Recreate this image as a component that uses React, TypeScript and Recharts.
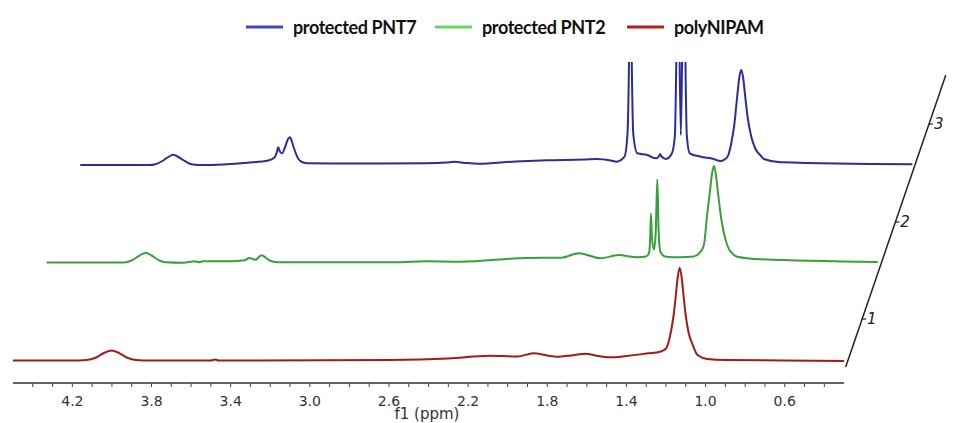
import React from 'react';
import { LineChart, Line, XAxis, YAxis, Legend, ReferenceLine, ReferenceDot } from 'recharts';

// [chemical shift (ppm), intensity]
const polyNipam: [number, number][] = [
  [4.5, 0], [4.2, 0], [4.13, 0.5], [4.08, 3], [4.04, 7.5], [4.003, 10], [3.965, 7.5], [3.925, 3],
  [3.88, 0.5], [3.8, 0], [3.5, 0], [3.48, 1], [3.46, 0], [2.6, 0.5], [2.3, 2], [2.09, 4.8], [1.95, 4],
  [1.87, 7.2], [1.8, 5], [1.75, 3.8], [1.68, 5], [1.61, 6.8], [1.54, 4.5], [1.48, 3.2], [1.4, 4.5],
  [1.29, 7.2], [1.23, 8.8], [1.2, 12], [1.176, 28], [1.161, 46], [1.151, 64], [1.141, 83], [1.131, 92.8],
  [1.121, 83], [1.111, 64], [1.101, 46], [1.086, 28], [1.066, 16], [1.041, 5.5], [0.99, 1.5], [0.9, 0.5],
  [0.6, 0], [0.3, -0.5],
];

const protectedPnt2: [number, number][] = [
  [4.5, 0], [4.11, 0], [4.07, 2], [4.03, 7], [4.0, 9.8], [3.97, 7], [3.93, 2], [3.9, 0.2], [3.81, -0.3],
  [3.75, 1.2], [3.73, 0.2], [3.71, 1.2], [3.57, 1.2], [3.5, 2.2], [3.475, 4.5], [3.445, 2.8], [3.415, 7.2],
  [3.37, 1.8], [3.33, 0.2], [2.73, 0.2], [2.59, 1.2], [2.41, 0.8], [2.07, 4.5], [1.9, 4.8], [1.81, 9.2],
  [1.7, 4.2], [1.61, 7.5], [1.515, 5.2], [1.47, 6], [1.455, 10], [1.45, 25], [1.446, 49], [1.441, 25],
  [1.431, 13], [1.422, 30], [1.414, 83], [1.407, 30], [1.4, 12], [1.39, 8], [1.37, 5.8], [1.3, 5.2],
  [1.23, 6], [1.195, 10.8], [1.178, 18], [1.162, 48], [1.148, 71], [1.138, 88], [1.128, 96.5],
  [1.118, 88], [1.108, 71], [1.094, 48], [1.078, 30], [1.058, 16], [1.03, 8], [1.01, 5.8], [0.89, 3.2],
  [0.3, 0.5],
];

const protectedPnt7: [number, number][] = [
  [4.5, 0], [4.15, 0], [4.12, 0.8], [4.085, 4], [4.055, 8], [4.03, 10.3], [4.005, 8], [3.98, 5],
  [3.95, 1.5], [3.92, 0.3], [3.89, 0], [3.655, 2.3], [3.55, 4.5], [3.52, 7.3], [3.505, 14], [3.5, 17.7],
  [3.49, 13], [3.48, 11.7], [3.465, 18], [3.45, 26], [3.44, 27.7], [3.43, 23], [3.42, 16.7], [3.4, 6.7],
  [3.38, 3], [3.35, 1.7], [3.0, 1.5], [2.75, 1.7], [2.65, 2.5], [2.61, 3.3], [2.55, 2], [2.49, 1.3],
  [2.3, 3.5], [2.14, 4.7], [1.95, 5.5], [1.89, 6], [1.82, 4.5], [1.79, 3.3], [1.75, 8.3], [1.735, 30],
  [1.726, 120], [1.72, 250], [1.714, 120], [1.705, 30], [1.685, 11.7], [1.635, 10], [1.59, 6.7],
  [1.575, 9], [1.57, 11], [1.565, 9], [1.54, 6], [1.51, 11.7], [1.495, 30], [1.485, 150], [1.478, 250],
  [1.472, 120], [1.465, 30], [1.458, 120], [1.452, 250], [1.445, 150], [1.435, 30], [1.42, 11.7],
  [1.365, 8.3], [1.3, 6], [1.265, 4], [1.24, 6], [1.225, 10], [1.21, 22], [1.195, 40], [1.18, 69],
  [1.17, 87], [1.16, 95], [1.15, 87], [1.14, 69], [1.127, 47], [1.11, 29], [1.09, 17], [1.06, 9],
  [1.045, 6], [0.96, 2.7], [0.295, 0.7],
];

const seriesNames = ['protected PNT7', 'protected PNT2', 'polyNIPAM'];
const traces = [protectedPnt7, protectedPnt2, polyNipam];
const traceColors = ['#2a2d9a', '#3a9f3a', '#a11b1b'];
const legendColors = ['#3f48cc', '#6ad46a', '#b81c1c'];

// stacked-plot offsets: horizontal shift (ppm) and vertical offset per trace
const xShifts = [0.34, 0.17, 0];
const yOffsets = [218, 120.5, 22.5];

const axisTicks = [4.4, 4.3, 4.2, 4.1, 4.0, 3.9, 3.8, 3.7, 3.6, 3.5, 3.4, 3.3, 3.2, 3.1, 3.0, 2.9, 2.8, 2.7,
  2.6, 2.5, 2.4, 2.3, 2.2, 2.1, 2.0, 1.9, 1.8, 1.7, 1.6, 1.5, 1.4, 1.3, 1.2, 1.1, 1.0, 0.9, 0.8, 0.7, 0.6,
  0.5, 0.4];
const tickLabels = ['4.2', '3.8', '3.4', '3.0', '2.6', '2.2', '1.8', '1.4', '1.0', '0.6'];

// slanted stack axis (drawn in chart units) and its tick heights
const stackLabels = ['1', '2', '3'];
const stackTickHeights = [64, 161, 259];
const stackAxisFrom = { x: 0.292, y: 16 };
const stackAxisTo = { x: -0.214, y: 308 };

const legendLeft = [246, 435, 627];

const toRows = (trace: [number, number][], shift: number, offset: number) =>
  trace.map(([ppm, value]) => ({ x: ppm - shift, y: value + offset }));

const stackX = (h: number) =>
  stackAxisFrom.x + ((h - stackAxisFrom.y) / (stackAxisTo.y - stackAxisFrom.y)) * (stackAxisTo.x - stackAxisFrom.x);

const LegendRow = () => (
  <div style={{ position: 'relative', width: 954, height: 50 }}>
    {seriesNames.map((name, i) => (
      <div
        key={name}
        style={{ position: 'absolute', left: legendLeft[i], top: 15, height: 24, display: 'flex', alignItems: 'center' }}
      >
        <svg width={37} height={4} style={{ display: 'block' }}>
          <line x1={0} y1={2} x2={37} y2={2} stroke={legendColors[i]} strokeWidth={3} />
        </svg>
        <span
          style={{
            marginLeft: 10,
            fontFamily: 'Lato',
            fontWeight: 700,
            fontSize: 18,
            letterSpacing: -0.4,
            color: '#111',
            lineHeight: '24px',
          }}
        >
          {name}
        </span>
      </div>
    ))}
  </div>
);

export default function App() {
  return (
    <div style={{ position: 'fixed', left: 0, top: 0, width: 954, height: 423, background: '#fff' }}>
      <LineChart width={954} height={423} margin={{ top: 12, right: 7, bottom: 0, left: 13 }}>
        <Legend verticalAlign="top" content={LegendRow} wrapperStyle={{ top: 0, left: 0, width: 954, height: 50 }} />
        <XAxis
          type="number"
          dataKey="x"
          domain={[-0.22, 4.5]}
          reversed
          allowDataOverflow
          ticks={axisTicks}
          interval={0}
          axisLine={false}
          tickSize={4}
          tickMargin={9}
          tickLine={{ stroke: '#444' }}
          tick={{ fill: '#333', fontSize: 14, fontFamily: 'DejaVu Sans' }}
          tickFormatter={(v: number) => (tickLabels.includes(v.toFixed(1)) ? v.toFixed(1) : '')}
          height={40}
          label={{
            value: 'f1 (ppm)',
            position: 'insideTop',
            offset: 25,
            dx: -53,
            style: { fill: '#333', fontSize: 15, fontFamily: 'DejaVu Sans' },
          }}
        />
        <YAxis type="number" hide domain={[0, 321]} allowDataOverflow />
        <ReferenceLine
          segment={[{ x: 4.5, y: 0 }, { x: 0.3, y: 0 }]}
          stroke="#333"
          strokeWidth={1.5}
          ifOverflow="visible"
        />
        <ReferenceLine segment={[stackAxisFrom, stackAxisTo]} stroke="#222" strokeWidth={1.5} ifOverflow="visible" />
        {stackTickHeights.map((h, i) => (
          <ReferenceLine
            key={`st${i}`}
            segment={[{ x: stackX(h), y: h }, { x: stackX(h) - 0.02, y: h }]}
            stroke="#222"
            strokeWidth={1.2}
            ifOverflow="visible"
          />
        ))}
        {stackTickHeights.map((h, i) => (
          <ReferenceDot
            key={`sl${i}`}
            x={stackX(h) - 0.02}
            y={h}
            r={0}
            fill="none"
            stroke="none"
            ifOverflow="visible"
            label={{
              value: stackLabels[i],
              position: 'right',
              offset: 1,
              style: { fill: '#222', fontSize: 15, fontFamily: 'DejaVu Sans', fontStyle: 'italic' },
            }}
          />
        ))}
        {[2, 1, 0].map((i) => (
          <Line
            key={seriesNames[i]}
            data={toRows(traces[i], xShifts[i], yOffsets[i])}
            dataKey="y"
            name={seriesNames[i]}
            type="monotone"
            stroke={traceColors[i]}
            strokeWidth={2}
            dot={false}
            activeDot={false}
            isAnimationActive={false}
          />
        ))}
      </LineChart>
    </div>
  );
}
